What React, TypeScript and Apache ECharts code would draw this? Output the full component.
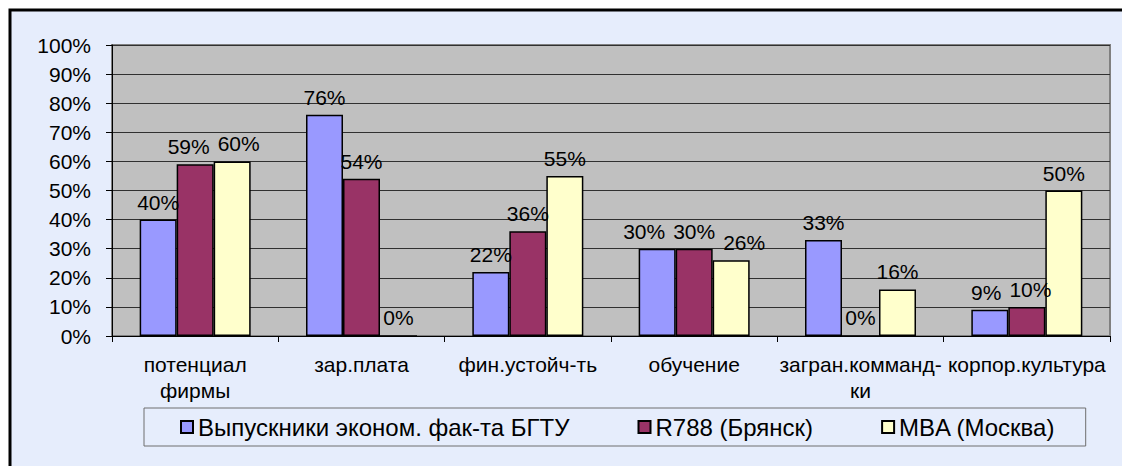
import React, { useEffect, useRef } from "react";
import * as echarts from "echarts";

const categories = [
  "потенциал\nфирмы",
  "зар.плата",
  "фин.устойч-ть",
  "обучение",
  "загран.комманд-\nки",
  "корпор.культура",
];
const seriesNames = ["Выпускники эконом. фак-та БГТУ", "R788 (Брянск)", "MBA (Москва)"];
const graduates = [40, 76, 22, 30, 33, 9];
const r788 = [59, 54, 36, 30, 0, 10];
const mba = [60, 0, 55, 26, 16, 50];
const colors = ["#9999FF", "#993366", "#FFFFCC"];

const FONT = "Liberation Sans, Arial, sans-serif";
const LABEL_SIZE = 21;
const BAR_WIDTH = 37;

// Excel-like nudging of overlapping value labels inside a category
function computeLabelShifts(values: number[][]): number[][] {
  const shifts = values.map((v) => v.map(() => 0));
  const canvas = document.createElement("canvas");
  const ctx = canvas.getContext("2d");
  const measure = (t: string) => {
    if (!ctx) return t.length * LABEL_SIZE * 0.55;
    ctx.font = `${LABEL_SIZE}px ${FONT}`;
    return ctx.measureText(t).width;
  };
  const gap = 8;
  const n = values.length;
  for (let c = 0; c < categories.length; c++) {
    for (let iter = 0; iter < 30; iter++) {
      for (let s = 0; s < n - 1; s++) {
        const a = values[s][c];
        const b = values[s + 1][c];
        if (Math.abs(a - b) > 7) continue;
        const wa = measure(a + "%");
        const wb = measure(b + "%");
        const ca = s * BAR_WIDTH + shifts[s][c];
        const cb = (s + 1) * BAR_WIDTH + shifts[s + 1][c];
        const overlap = ca + wa / 2 + gap - (cb - wb / 2);
        if (overlap > 0.1) {
          shifts[s][c] -= overlap / 2;
          shifts[s + 1][c] += overlap / 2;
        }
      }
    }
  }
  return shifts;
}

export default function App() {
  const ref = useRef<HTMLDivElement>(null);
  useEffect(() => {
    const chart = echarts.init(ref.current!, null, { renderer: "svg" });
    const values = [graduates, r788, mba];
    const shifts = computeLabelShifts(values);
    chart.setOption({
      animation: false,
      backgroundColor: "#ffffff",
      textStyle: { fontFamily: FONT },
      graphic: [
        {
          type: "rect",
          z: -10,
          silent: true,
          shape: { x: 10, y: 10, width: 1130, height: 470 },
          style: { fill: "#E6EDFC", stroke: "#000000", lineWidth: 3 },
        },
      ],
      grid: {
        left: 112,
        right: 12,
        top: 45,
        bottom: 130,
        show: true,
        backgroundColor: "#C0C0C0",
        borderColor: "#808080",
        borderWidth: 2,
      },
      legend: {
        left: 144,
        top: 408,
        itemWidth: 12,
        itemHeight: 12,
        itemGap: 68,
        padding: [7, 30, 7, 36],
        borderColor: "#6e6e6e",
        borderWidth: 1,
        icon: "rect",
        textStyle: { fontSize: 24, color: "#000", fontFamily: FONT },
        data: seriesNames,
      },
      xAxis: {
        type: "category",
        data: categories,
        boundaryGap: true,
        axisLine: { lineStyle: { color: "#000", width: 1 } },
        axisTick: { show: true, length: 6, lineStyle: { color: "#000" } },
        axisLabel: {
          fontSize: 21,
          color: "#000",
          margin: 15,
          lineHeight: 26,
          interval: 0,
          fontFamily: FONT,
        },
      },
      yAxis: {
        type: "value",
        min: 0,
        max: 100,
        interval: 10,
        axisLine: { show: true, lineStyle: { color: "#000", width: 1 } },
        axisTick: { show: true, length: 6, lineStyle: { color: "#000" } },
        splitLine: { lineStyle: { color: "#303030", width: 1 } },
        axisLabel: {
          formatter: "{value}%",
          fontSize: 21,
          color: "#000",
          margin: 21,
          fontFamily: FONT,
        },
      },
      series: seriesNames.map((name, i) => ({
        name,
        type: "bar",
        data: values[i].map((v, j) => ({
          value: v,
          label: { offset: [shifts[i][j], 0] },
        })),
        barWidth: BAR_WIDTH,
        barGap: "0%",
        itemStyle: { color: colors[i], borderColor: "#000", borderWidth: 1.5 },
        label: {
          show: true,
          position: "top",
          distance: 7,
          formatter: "{c}%",
          fontSize: LABEL_SIZE,
          color: "#000",
          fontFamily: FONT,
        },
      })),
    });
    return () => chart.dispose();
  }, []);
  return (
    <div
      ref={ref}
      style={{ position: "fixed", left: 0, top: 0, width: 1122, height: 466 }}
    />
  );
}
